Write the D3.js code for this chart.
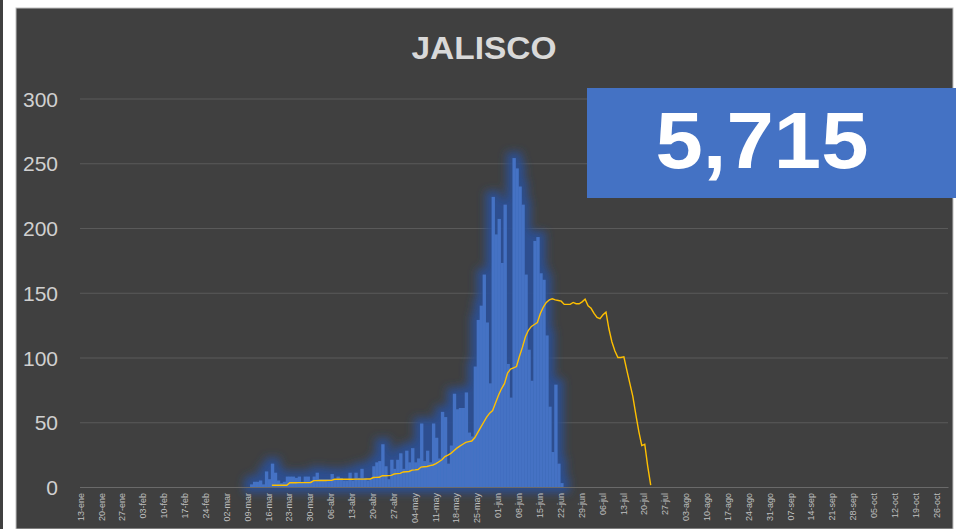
<!DOCTYPE html>
<html><head><meta charset="utf-8">
<script src="https://cdn.jsdelivr.net/npm/d3@7"></script>
<style>html,body{margin:0;padding:0;background:#fff;overflow:hidden}svg{display:block}</style>
</head><body>
<script>
const title = "JALISCO";
const totalLabel = "5,715";
const tickLabels = ["13-ene","20-ene","27-ene","03-feb","10-feb","17-feb","24-feb","02-mar","09-mar","16-mar","23-mar","30-mar","06-abr","13-abr","20-abr","27-abr","04-may","11-may","18-may","25-may","01-jun","08-jun","15-jun","22-jun","29-jun","06-jul","13-jul","20-jul","27-jul","03-ago","10-ago","17-ago","24-ago","31-ago","07-sep","14-sep","21-sep","28-sep","05-oct","12-oct","19-oct","26-oct"];
const yTicks = [0,50,100,150,200,250,300];
const caseStart = "2020-03-10";
const caseValues = [2,4,4,5,2,12,6,18,11,5,3,4,8,8,8,7,8,4,8,8,5,8,11,6,6,6,6,10,6,8,
7,5,5,11,5,11,7,14,7,5,6,16,19,20,33,16,6,21,14,21,
26,14,28,19,30,19,22,49,20,28,19,49,38,22,58,54,18,32,72,60,
61,61,73,42,39,93,129,140,164,127,80,224,195,207,173,218,95,69,254,246,
232,218,164,106,82,190,193,165,160,117,62,27,79,18,3];
const avgStart = "2020-03-17";
const avgValues = [1.3,1.3,1.3,1.3,1.4,1.4,3.3,3.3,3.3,3.4,3.4,3.4,3.4,3.5,4.9,4.9,5,5,5,5.1,5.1,6,
6,6,6,6,6,6,6.1,6.1,6.1,6.1,6.2,6.2,7.3,7.4,7.5,8.7,8.7,8.8,9,10,10.3,10.5,11.6,11.8,12,13,13.2,13.5,
15.4,15.6,15.8,16.5,17,18,19.5,21,23.5,24.7,26,28,30,31.5,33,34.5,35,35.5,38,42,46,50,54,57,59,65,71,76,80,88,91,92,93,
101,108,116,121,124,125.5,127,134,139,142.5,144.5,145.3,144.5,144,143.5,141,141,141,142.5,141.5,141.5,143,145,140,138,134,131,130,133,135,
122,112,105,100,100,100.5,90,80,70,56,43,32,33,16,1.5];

const W = 960, H = 529;
const svg = d3.select("body").append("svg").attr("width", W).attr("height", H);

// frame
svg.append("rect").attr("x",0).attr("y",0).attr("width",3).attr("height",H).attr("fill","#404040");
svg.append("rect").attr("x",16).attr("y",8).attr("width",937).attr("height",H-8)
  .attr("fill","#404040").attr("stroke","#bfbfbf").attr("stroke-width",1);

const parse = d3.utcParse("%Y-%m-%d");
const x = d3.scaleUtc().domain([Date.UTC(2020,0,13), Date.UTC(2020,9,30)]).range([80, 948]);
const y = d3.scaleLinear().domain([0,300]).range([487, 98.5]);

const defs = svg.append("defs");
const f = defs.append("filter").attr("id","glow").attr("x","-20%").attr("y","-20%").attr("width","140%").attr("height","140%");
f.append("feMorphology").attr("in","SourceAlpha").attr("operator","dilate").attr("radius",6).attr("result","d");
f.append("feGaussianBlur").attr("in","d").attr("stdDeviation",4).attr("result","b");
f.append("feFlood").attr("flood-color","#2b4f94").attr("flood-opacity",0.95).attr("result","c");
f.append("feComposite").attr("in","c").attr("in2","b").attr("operator","in").attr("result","g");
const m = f.append("feMerge");
m.append("feMergeNode").attr("in","g");
m.append("feMergeNode").attr("in","SourceGraphic");

// y axis with gridlines
const yAxis = svg.append("g").attr("transform","translate(80,0)")
  .call(d3.axisLeft(y).tickValues(yTicks).tickSize(-868).tickPadding(22));
yAxis.select(".domain").remove();
yAxis.selectAll(".tick line").attr("stroke","#5a5a5a").attr("stroke-width",1)
  .filter(d => d === 0).attr("stroke","#6a6a6a");
yAxis.selectAll(".tick text").attr("fill","#d0d0d0").attr("font-family","Liberation Sans, Arial, sans-serif")
  .attr("font-size",21).attr("dy","0.36em");

// bars
const t0 = parse(caseStart);
const caseData = caseValues.map((v,i) => ({d: d3.utcDay.offset(t0, i), v}));
svg.append("g").attr("filter","url(#glow)")
  .selectAll("rect").data(caseData).join("rect")
  .attr("x", d => x(d.d))
  .attr("width", d => x(d3.utcDay.offset(d.d,1)) - x(d.d) + 0.3)
  .attr("y", d => y(d.v))
  .attr("height", d => y(0) - y(d.v))
  .attr("fill","#4472c4");

// average line
const a0 = parse(avgStart);
const avgData = avgValues.map((v,i) => ({d: d3.utcDay.offset(a0, i), v}));
svg.append("path").datum(avgData)
  .attr("d", d3.line().x(d => x(d.d) + 1).y(d => y(d.v)))
  .attr("fill","none").attr("stroke","#ffc000").attr("stroke-width",1.4);

// x axis
const tickDates = tickLabels.map((_,i) => d3.utcDay.offset(new Date(Date.UTC(2020,0,13)), i*7));
const xAxis = svg.append("g").attr("transform","translate(0,487)")
  .call(d3.axisBottom(x).tickValues(tickDates).tickSize(0).tickFormat((d,i) => tickLabels[i]));
xAxis.select(".domain").attr("stroke","#6a6a6a");
xAxis.selectAll(".tick text")
  .attr("fill","#bfbfbf").attr("font-family","Liberation Sans, Arial, sans-serif").attr("font-size",9)
  .attr("text-anchor","end").attr("transform","rotate(-90)").attr("x",-6).attr("y",0).attr("dy","0.35em");

// title
svg.append("text").attr("x",484).attr("y",59).attr("text-anchor","middle")
  .attr("font-family","Liberation Sans, Arial, sans-serif").attr("font-weight","bold").attr("font-size",32)
  .attr("textLength",145).attr("lengthAdjust","spacingAndGlyphs")
  .attr("fill","#d9d9d9").text(title);

// total box
svg.append("rect").attr("x",587).attr("y",88).attr("width",369).attr("height",110).attr("fill","#4472c4");
svg.append("text").attr("x",762).attr("y",168).attr("text-anchor","middle")
  .attr("font-family","Liberation Sans, Arial, sans-serif").attr("font-weight","bold").attr("font-size",80)
  .attr("textLength",213).attr("lengthAdjust","spacingAndGlyphs")
  .attr("fill","#ffffff").text(totalLabel);
</script>
</body></html>
